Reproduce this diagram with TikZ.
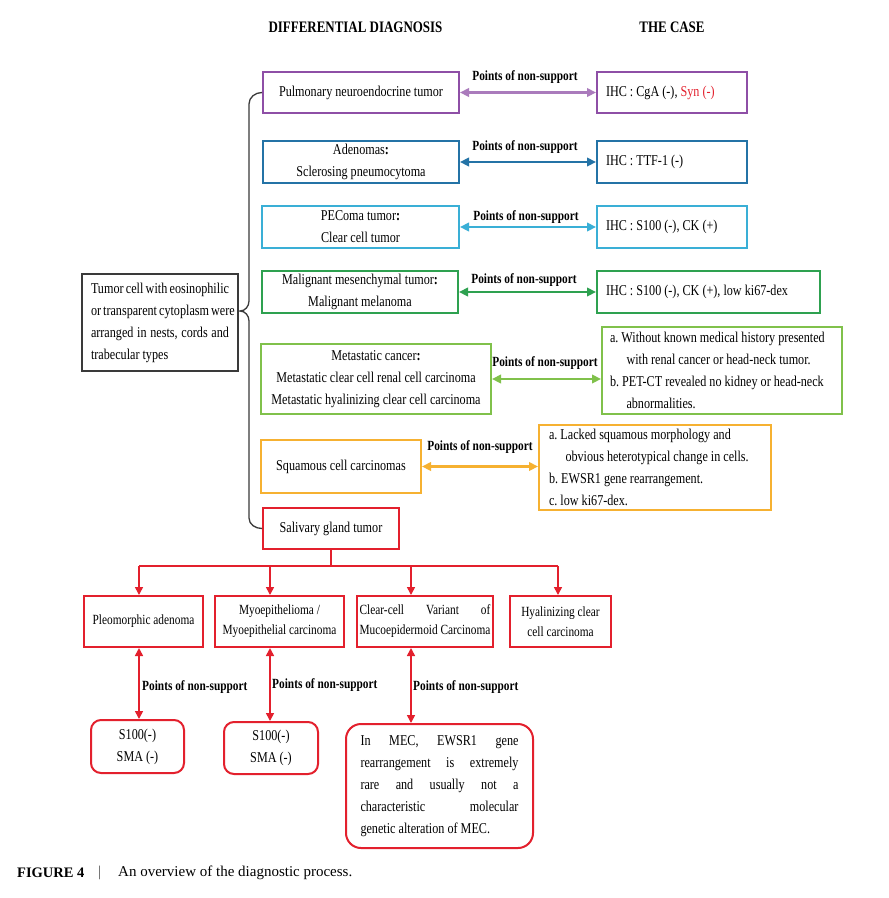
\documentclass[tikz,border=0pt]{standalone}
\usepackage{fontspec}
\setmainfont{Liberation Serif}[FakeStretch=0.81]
\newfontfamily\capfont{Liberation Serif}
\usetikzlibrary{arrows.meta}
\definecolor{cpur}{HTML}{8E4FA6}
\definecolor{cblu}{HTML}{2473A6}
\definecolor{ccya}{HTML}{3AAFD6}
\definecolor{cgrn}{HTML}{2EA150}
\definecolor{clgr}{HTML}{80C14B}
\definecolor{cora}{HTML}{F6B131}
\definecolor{cred}{HTML}{E3202D}
\definecolor{cbr}{HTML}{3A3A3A}
\newlength\mlen
\begin{document}
\begin{tikzpicture}[x=1pt,y=-1pt,
  box/.style={draw, line width=2pt, inner sep=0pt, align=center, font=\fontsize{15}{22}\selectfont\frenchspacing, text=black},
  sbox/.style={box, font=\fontsize{14}{20}\selectfont\frenchspacing},
  lbox/.style={box, align=flush left, inner xsep=9pt, inner ysep=0pt},
  rbox/.style={box, draw=cred, rounded corners=10pt},
  pts/.style={font=\bfseries\fontsize{14}{16}\selectfont, inner sep=0pt, text=black},
  darr/.style={{Triangle[length=9pt,width=8.5pt]}-{Triangle[length=9pt,width=8.5pt]}, line width=2.2pt},
  rarr/.style={-{Triangle[length=8pt,width=8pt]}, draw=cred, fill=cred, line width=1.6pt},
  rdarr/.style={{Triangle[length=8pt,width=8pt]}-{Triangle[length=8pt,width=8pt]}, line width=1.6pt, draw=cred, fill=cred},
  rline/.style={draw=cred, line width=1.6pt},
  bracestyle/.style={draw=cbr, line width=1.3pt},
  head/.style={font=\bfseries\fontsize{16}{18}\selectfont, inner sep=0pt}
]
\useasboundingbox[fill=white] (0,0) rectangle (889,898);

% headers
\node[head] (h1) at (355.5,27) {DIFFERENTIAL DIAGNOSIS};
\node[head] (h2) at (672,27) {THE CASE};

% left box
\node[box, draw=cbr, line width=1.3pt, align=left, minimum width=156pt, minimum height=97pt] (L) at (160,322.5)
 {\makebox[138pt][s]{Tumor cell with eosinophilic}\\
  \makebox[138pt][s]{or transparent cytoplasm were}\\
  \makebox[138pt][s]{arranged in nests, cords and}\\
  trabecular types};

% row 1
\node[box, draw=cpur, minimum width=196pt, minimum height=41pt] (p1) at (361,92.5) {Pulmonary neuroendocrine tumor};
\node[lbox, draw=cpur, text width=132pt, minimum height=41pt] (p2) at (672,92.5) {IHC : CgA (-), \textcolor{cred}{Syn (-)}};
\draw[darr, draw=cpur!75, fill=cpur!75] (p1.east) -- (p2.west);
\node[pts] (l1) at (525,77) {Points of non-support};

% row 2
\node[box, draw=cblu, minimum width=196pt, minimum height=42pt] (a1) at (361,162) {Adenomas\textbf{:}\\Sclerosing pneumocytoma};
\node[lbox, draw=cblu, text width=132pt, minimum height=42pt] (a2) at (672,162) {IHC : TTF-1 (-)};
\draw[darr, draw=cblu, fill=cblu] (a1.east) -- (a2.west);
\node[pts] (l2) at (525,147) {Points of non-support};

% row 3
\node[box, draw=ccya, minimum width=197pt, minimum height=42pt] (c1) at (360.5,227) {PEComa tumor\textbf{:}\\Clear cell tumor};
\node[lbox, draw=ccya, text width=132pt, minimum height=42pt] (c2) at (672,227) {IHC : S100 (-), CK (+)};
\draw[darr, draw=ccya, fill=ccya] (c1.east) -- (c2.west);
\node[pts] (l3) at (526,217) {Points of non-support};

% row 4
\node[box, draw=cgrn, minimum width=196pt, minimum height=42pt] (m1) at (360,292) {Malignant mesenchymal tumor\textbf{:}\\Malignant melanoma};
\node[lbox, draw=cgrn, text width=205pt, minimum height=42pt] (m2) at (708.5,292) {IHC : S100 (-), CK (+), low ki67-dex};
\draw[darr, draw=cgrn, fill=cgrn] (m1.east) -- (m2.west);
\node[pts] (l4) at (524,280) {Points of non-support};

% row 5
\node[box, draw=clgr, minimum width=230pt, minimum height=70pt] (t1) at (376,379) {Metastatic cancer\textbf{:}\\Metastatic clear cell renal cell carcinoma\\Metastatic hyalinizing clear cell carcinoma};
\node[lbox, draw=clgr, inner xsep=8pt, text width=224pt, minimum height=87pt] (t2) at (722,370.5)
 {\mbox{a. Without known medical history presented}\\
  \mbox{\hspace*{1.1em}with renal cancer or head-neck tumor.}\\
  \mbox{b. PET-CT revealed no kidney or head-neck}\\
  \mbox{\hspace*{1.1em}abnormalities.}};
\draw[darr, draw=clgr, fill=clgr] (t1.east) -- (t1.east -| t2.west);
\node[pts] (l5) at (545,363) {Points of non-support};

% row 6
\node[box, draw=cora, minimum width=160pt, minimum height=53pt] (s1) at (341,466.5) {Squamous cell carcinomas};
\node[lbox, draw=cora, inner xsep=10pt, text width=212pt, minimum height=85pt] (s2) at (655,467.5)
 {\mbox{a. Lacked squamous morphology and}\\
  \mbox{\hspace*{1.1em}obvious heterotypical change in cells.}\\
  \mbox{b. EWSR1 gene rearrangement.}\\
  \mbox{c. low ki67-dex.}};
\draw[darr, draw=cora, fill=cora] (s1.east) -- (s1.east -| s2.west);
\node[pts] (l6) at (480,447) {Points of non-support};

% salivary
\node[box, draw=cred, minimum width=136pt, minimum height=41pt] (sal) at (331,528.5) {Salivary gland tumor};

% brace
\coordinate (tip) at (240,311);
\draw[bracestyle] (p1.west) to[out=180,in=90] (249,104) -- (249,301)
  to[out=-90,in=0] (tip) to[out=0,in=90] (249,321) -- (249,518)
  to[out=-90,in=180] (sal.west);

% bottom boxes
\node[sbox, draw=cred, minimum width=119pt, minimum height=51pt] (b1) at (143.5,621.5) {Pleomorphic adenoma};
\node[sbox, draw=cred, minimum width=129pt, minimum height=51pt] (b2) at (279.5,621.5) {Myoepithelioma /\\Myoepithelial carcinoma};
\node[sbox, draw=cred, minimum width=136pt, minimum height=51pt] (b3) at (425,621.5)
 {\settowidth{\mlen}{Mucoepidermoid Carcinoma}\makebox[\mlen][s]{Clear-cell Variant of}\\Mucoepidermoid Carcinoma};
\node[sbox, draw=cred, minimum width=101pt, minimum height=51pt] (b4) at (560.5,621.5) {Hyalinizing clear\\cell carcinoma};

% tree
\coordinate (ja) at (139,566);
\coordinate (jb) at (270,566);
\coordinate (jc) at (411,566);
\coordinate (jd) at (558,566);
\draw[rline] (sal.south) -- (sal.south |- ja);
\draw[rline] (ja) -- (jd);
\draw[rarr] (ja) -- (ja |- b1.north);
\draw[rarr] (jb) -- (jb |- b2.north);
\draw[rarr] (jc) -- (jc |- b3.north);
\draw[rarr] (jd) -- (jd |- b4.north);

% lower boxes
\node[rbox, minimum width=93pt, minimum height=53pt] (d1) at (137.5,746.5) {S100(-)\\SMA (-)};
\node[rbox, minimum width=94pt, minimum height=52pt] (d2) at (271,748) {S100(-)\\SMA (-)};
\node[rbox, rounded corners=15pt, align=left, minimum width=187pt, minimum height=124pt] (d3) at (439.5,786)
 {\makebox[158pt][s]{In MEC, EWSR1 gene}\\
  \makebox[158pt][s]{rearrangement is extremely}\\
  \makebox[158pt][s]{rare and usually not a}\\
  \makebox[158pt][s]{characteristic molecular}\\
  genetic alteration of MEC.};

\draw[rdarr] (ja |- b1.south) -- (ja |- d1.north);
\draw[rdarr] (jb |- b2.south) -- (jb |- d2.north);
\draw[rdarr] (jc |- b3.south) -- (jc |- d3.north);
\node[pts, anchor=west] (l7) at (142,687) {Points of non-support};
\node[pts, anchor=west] (l8) at (272,685) {Points of non-support};
\node[pts, anchor=west] (l9) at (413,687) {Points of non-support};

% caption
\node[anchor=west, inner sep=0pt, font=\capfont\bfseries\fontsize{14.5}{16}\selectfont] (cap1) at (17,873) {FIGURE 4};
\node[anchor=west, inner sep=0pt, font=\capfont\fontsize{15}{16}\selectfont, text=black!70] (cap2) at (98,873) {|};
\node[anchor=west, inner sep=0pt, font=\capfont\fontsize{15}{16}\selectfont] (cap3) at (118,873) {An overview of the diagnostic process.};
\end{tikzpicture}
\end{document}
